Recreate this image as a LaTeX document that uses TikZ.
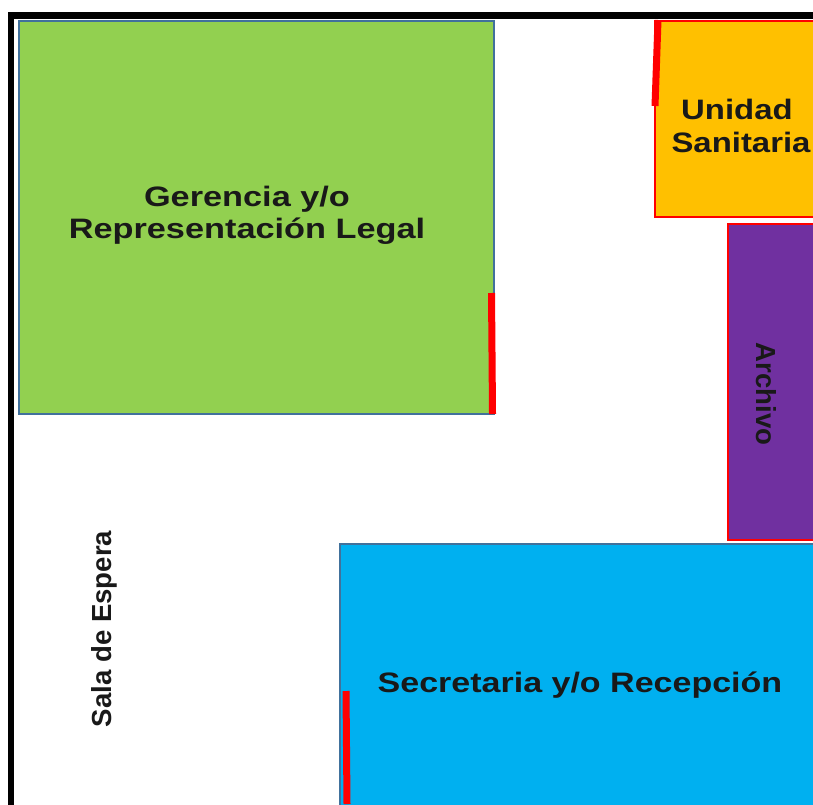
\documentclass[tikz,border=0pt]{standalone}
\usepackage{fontspec}
\setmainfont{Liberation Sans}
\definecolor{gerenciaverde}{RGB}{146,208,80}
\definecolor{unidadnaranja}{RGB}{255,192,0}
\definecolor{archivomorado}{RGB}{112,48,160}
\definecolor{secretariaazul}{RGB}{0,176,240}
\definecolor{bordeazul}{RGB}{65,113,156}
\tikzset{
  rotulo/.style={font=\bfseries\fontsize{16}{18.5}\selectfont,align=center,text=black!90,inner sep=0pt},
  vertical/.style={font=\bfseries\fontsize{15.7}{18.5}\selectfont,text=black!90,inner sep=0pt},
  puerta/.style={draw=red,line width=0.14cm}
}

\begin{document}
\begin{tikzpicture}[x=0.02cm,y=-0.02cm]
\useasboundingbox (0,0) rectangle (813,804);
\begin{scope}
\clip (0,0) rectangle (813,804);
\fill [gerenciaverde] (19,21) rectangle (494,414);
\draw [bordeazul,line width=0.03cm] (19,21) rectangle (494,414);
\fill [unidadnaranja] (655,21) rectangle (830,217);
\draw [red,line width=0.04cm] (655,21) rectangle (830,217);
\fill [archivomorado] (728,224) rectangle (830,540);
\draw [red,line width=0.04cm] (728,224) rectangle (830,540);
\fill [secretariaazul] (340,544) rectangle (830,820);
\draw [bordeazul,line width=0.03cm] (340,544) rectangle (830,820);

\draw [puerta] (491.5,293) -- (492.5,414);
\draw [puerta] (658,20) -- (655,106);
\draw [puerta] (346,691) -- (347,804);

\draw [black,line width=0.14cm] (11,820) -- (11,15.5) -- (830,15.5);
\end{scope}

\node [rotulo,xscale=1.22] (gerencia) at (247,215.5) {Gerencia y/o\\Representación Legal};
\node [rotulo,xscale=1.17] (unidad) at (741,126) {Unidad\kern4pt\\Sanitaria};
\node [rotulo,xscale=1.21] (secretaria) at (580,685) {Secretaria y/o Recepción};
\node [vertical,rotate=-90] (archivo) at (766,394) {Archivo};
\node [vertical,rotate=90] (sala) at (104,629) {Sala de Espera};
\end{tikzpicture}
\end{document}
